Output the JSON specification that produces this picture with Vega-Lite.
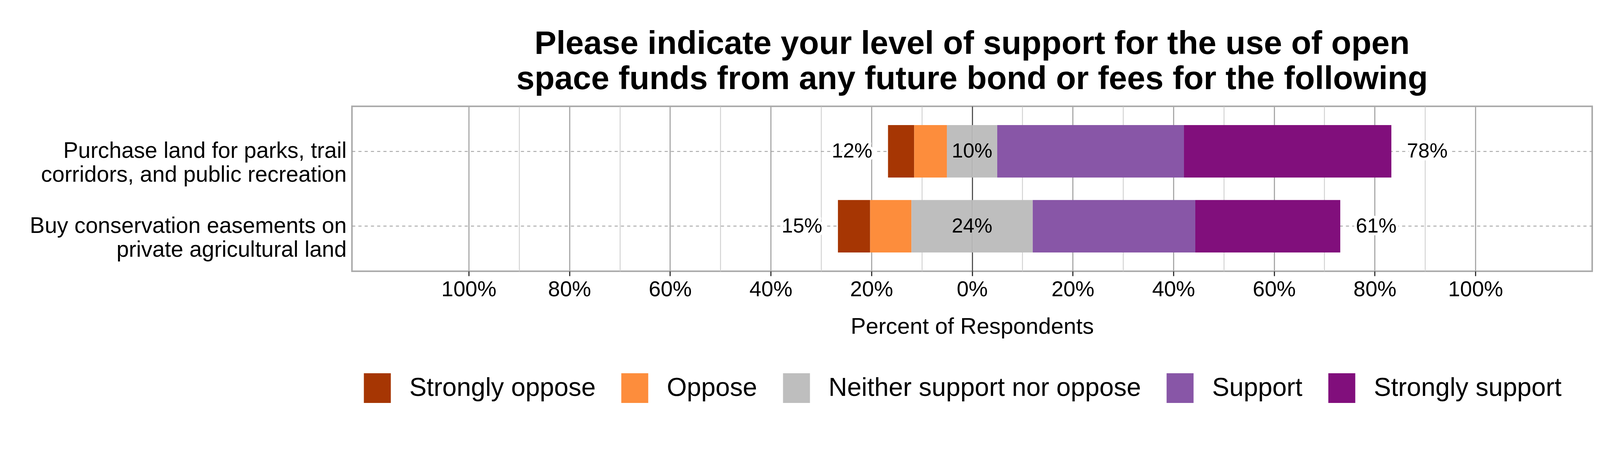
{
  "$schema": "https://vega.github.io/schema/vega-lite/v6.json",
  "description": "Support for open space funds (diverging Likert bars)",
  "width": 3175,
  "height": 422,
  "autosize": {"type": "none"},
  "padding": {"left": 901, "top": 272, "right": 124, "bottom": 506},
  "background": "white",
  "title": {
    "text": [
      "Please indicate your level of support for the use of open",
      "space funds from any future bond or fees for the following"
    ],
    "anchor": "middle",
    "frame": "group",
    "font": "Liberation Sans",
    "fontSize": 84,
    "fontWeight": "bold",
    "lineHeight": 90,
    "offset": 26,
    "color": "black"
  },
  "datasets": {
    "responses": [
      {"item": "Purchase land for parks, trail corridors, and public recreation", "response": "Strongly oppose", "intensity": 2, "pct": -0.052},
      {"item": "Purchase land for parks, trail corridors, and public recreation", "response": "Oppose", "intensity": 1, "pct": -0.065},
      {"item": "Purchase land for parks, trail corridors, and public recreation", "response": "Neither support nor oppose", "intensity": 0, "pct": -0.05},
      {"item": "Purchase land for parks, trail corridors, and public recreation", "response": "Neither support nor oppose", "intensity": 0, "pct": 0.05},
      {"item": "Purchase land for parks, trail corridors, and public recreation", "response": "Support", "intensity": 1, "pct": 0.371},
      {"item": "Purchase land for parks, trail corridors, and public recreation", "response": "Strongly support", "intensity": 2, "pct": 0.412},
      {"item": "Buy conservation easements on private agricultural land", "response": "Strongly oppose", "intensity": 2, "pct": -0.064},
      {"item": "Buy conservation easements on private agricultural land", "response": "Oppose", "intensity": 1, "pct": -0.082},
      {"item": "Buy conservation easements on private agricultural land", "response": "Neither support nor oppose", "intensity": 0, "pct": -0.1205},
      {"item": "Buy conservation easements on private agricultural land", "response": "Neither support nor oppose", "intensity": 0, "pct": 0.1205},
      {"item": "Buy conservation easements on private agricultural land", "response": "Support", "intensity": 1, "pct": 0.323},
      {"item": "Buy conservation easements on private agricultural land", "response": "Strongly support", "intensity": 2, "pct": 0.288}
    ],
    "labels": [
      {"item": "Purchase land for parks, trail corridors, and public recreation", "oppose": 0.12, "neutral": 0.10, "support": 0.78},
      {"item": "Buy conservation easements on private agricultural land", "oppose": 0.15, "neutral": 0.24, "support": 0.61}
    ]
  },
  "data": {"name": "responses"},
  "encoding": {
    "y": {
      "field": "item",
      "type": "nominal",
      "sort": [
        "Purchase land for parks, trail corridors, and public recreation",
        "Buy conservation easements on private agricultural land"
      ],
      "scale": {"paddingInner": 0.3, "paddingOuter": 0.25},
      "axis": {
        "title": null,
        "ticks": false,
        "domain": false,
        "labelFont": "Liberation Sans",
        "labelFontSize": 57,
        "labelColor": "black",
        "labelPadding": 14,
        "labelLimit": 0,
        "labelLineHeight": 61,
        "labelExpr": "datum.label == 'Purchase land for parks, trail corridors, and public recreation' ? ['Purchase land for parks, trail', 'corridors, and public recreation'] : ['Buy conservation easements on', 'private agricultural land']",
        "grid": true,
        "gridDash": [8, 8],
        "gridColor": "#999999",
        "gridWidth": 2,
        "bandPosition": 0.5
      }
    }
  },
  "layer": [
    {
      "mark": {"type": "bar"},
      "encoding": {
        "x": {
          "field": "pct",
          "type": "quantitative",
          "stack": "zero",
          "scale": {"domain": [-1.232, 1.232], "nice": false},
          "axis": {
            "title": "Percent of Respondents",
            "titleFont": "Liberation Sans",
            "titleFontSize": 58,
            "titleFontWeight": "normal",
            "titleColor": "black",
            "titlePadding": 39,
            "values": [-1, -0.9, -0.8, -0.7, -0.6, -0.5, -0.4, -0.3, -0.2, -0.1, 0, 0.1, 0.2, 0.3, 0.4, 0.5, 0.6, 0.7, 0.8, 0.9, 1],
            "labelExpr": "round(datum.value * 10) % 2 == 0 ? format(abs(datum.value), '.0%') : ''",
            "labelFont": "Liberation Sans",
            "labelFontSize": 55,
            "labelColor": "black",
            "labelPadding": 8,
            "labelFlush": false,
            "labelOverlap": false,
            "domain": false,
            "tickSize": 12,
            "tickWidth": 3,
            "tickColor": {"condition": {"test": "round(datum.value * 10) % 2 == 0", "value": "#333333"}, "value": "transparent"},
            "grid": true,
            "gridColor": {"condition": [{"test": "datum.value == 0", "value": "#555555"}, {"test": "round(datum.value * 10) % 2 == 0", "value": "#aaaaaa"}], "value": "#cacaca"},
            "gridWidth": {"condition": {"test": "round(datum.value * 10) % 2 == 0", "value": 3}, "value": 2}
          }
        },
        "color": {
          "field": "response",
          "type": "nominal",
          "scale": {
            "domain": ["Strongly oppose", "Oppose", "Neither support nor oppose", "Support", "Strongly support"],
            "range": ["#a63603", "#fd8d3c", "#bebebe", "#8856a7", "#810f7c"]
          },
          "legend": {
            "title": null,
            "orient": "none",
            "legendX": 27,
            "legendY": 683,
            "direction": "horizontal",
            "padding": 0,
            "symbolType": "M-0.908,-1H0.908V1H-0.908Z",
            "symbolSize": 5776,
            "symbolStrokeWidth": 0,
            "symbolOpacity": 1,
            "labelFont": "Liberation Sans",
            "labelFontSize": 66,
            "labelColor": "black",
            "labelOffset": 44,
            "labelLimit": 0,
            "columnPadding": 62
          }
        },
        "order": {"field": "intensity", "type": "quantitative", "sort": "ascending"}
      }
    },
    {
      "transform": [
        {"filter": "datum.pct < 0"},
        {"aggregate": [{"op": "sum", "field": "pct", "as": "start"}], "groupby": ["item"]},
        {"lookup": "item", "from": {"data": {"name": "labels"}, "key": "item", "fields": ["oppose"]}}
      ],
      "encoding": {
        "x": {"field": "start", "type": "quantitative"},
        "text": {"field": "oppose", "type": "quantitative", "format": ".0%"}
      },
      "layer": [
        {"mark": {"type": "text", "align": "right", "baseline": "middle", "dx": -40, "font": "Liberation Sans", "fontSize": 52, "color": "white", "stroke": "white", "strokeWidth": 14, "strokeJoin": "round"}},
        {"mark": {"type": "text", "align": "right", "baseline": "middle", "dx": -40, "font": "Liberation Sans", "fontSize": 52, "color": "black"}}
      ]
    },
    {
      "transform": [
        {"filter": "datum.pct > 0"},
        {"aggregate": [{"op": "sum", "field": "pct", "as": "end"}], "groupby": ["item"]},
        {"lookup": "item", "from": {"data": {"name": "labels"}, "key": "item", "fields": ["support"]}}
      ],
      "encoding": {
        "x": {"field": "end", "type": "quantitative"},
        "text": {"field": "support", "type": "quantitative", "format": ".0%"}
      },
      "layer": [
        {"mark": {"type": "text", "align": "left", "baseline": "middle", "dx": 40, "font": "Liberation Sans", "fontSize": 52, "color": "white", "stroke": "white", "strokeWidth": 14, "strokeJoin": "round"}},
        {"mark": {"type": "text", "align": "left", "baseline": "middle", "dx": 40, "font": "Liberation Sans", "fontSize": 52, "color": "black"}}
      ]
    },
    {
      "data": {"name": "labels"},
      "mark": {"type": "text", "align": "center", "baseline": "middle", "font": "Liberation Sans", "fontSize": 52, "color": "black"},
      "encoding": {
        "x": {"datum": 0, "type": "quantitative"},
        "text": {"field": "neutral", "type": "quantitative", "format": ".0%"}
      }
    }
  ],
  "config": {
    "font": "Liberation Sans",
    "view": {"stroke": "#ababab", "strokeWidth": 4}
  }
}
